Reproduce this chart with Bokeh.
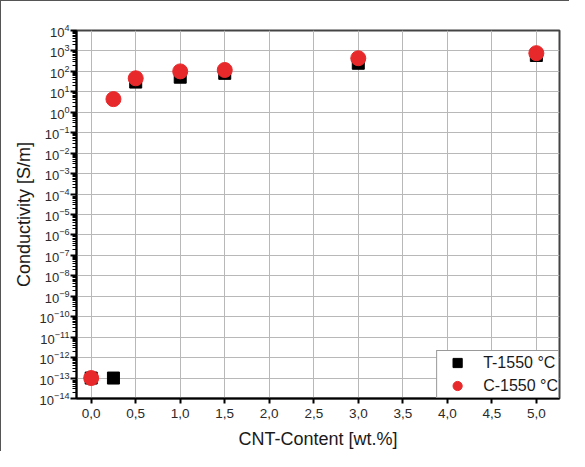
from bokeh.plotting import figure
from bokeh.embed import file_html
from bokeh.resources import INLINE
from bokeh.models import (FixedTicker, CustomJSTickFormatter, LogTickFormatter,
                          Legend, LegendItem, Range1d)

# ---- data ----
x_t = [0.0, 0.25, 0.5, 1.0, 1.5, 3.0, 5.0]
y_t = [1e-13, 1e-13, 30, 52, 80, 250, 600]
x_c = [0.0, 0.25, 0.5, 1.0, 1.5, 3.0, 5.0]
y_c = [1e-13, 4.4, 46, 100, 117, 440, 780]
x_ticks = [0.0, 0.5, 1.0, 1.5, 2.0, 2.5, 3.0, 3.5, 4.0, 4.5, 5.0]
y_exponents = list(range(-14, 5))
series_names = ["T-1550 °C", "C-1550 °C"]

FONT = "Liberation Sans"

p = figure(width=569, height=451, y_axis_type="log",
           x_range=Range1d(-0.165, 5.26), y_range=Range1d(1e-14, 1e4),
           output_backend="svg", toolbar_location=None,
           min_border_left=75, min_border_right=11,
           min_border_top=29, min_border_bottom=54)
p.styles = {"border-top": "1px solid #555", "border-left": "1px solid #555"}

p.background_fill_color = "white"
p.border_fill_color = "white"
p.outline_line_color = "#444444"
p.outline_line_width = 2

# grid
p.xgrid.grid_line_color = "#b8b8b8"
p.ygrid.grid_line_color = "#b8b8b8"
p.xgrid.grid_line_width = 1
p.ygrid.grid_line_width = 1

# x axis
p.xaxis.ticker = FixedTicker(ticks=x_ticks)
p.xaxis.formatter = CustomJSTickFormatter(code="return tick.toFixed(1).replace('.', ',');")
p.xaxis.axis_line_color = "black"
p.xaxis.axis_line_width = 2
p.xaxis.major_tick_line_color = "black"
p.xaxis.major_tick_line_width = 2
p.xaxis.major_tick_out = 5
p.xaxis.major_tick_in = 0
p.xaxis.minor_tick_line_color = None
p.xaxis.major_label_text_font = FONT
p.xaxis.major_label_text_font_size = "13.5px"
p.xaxis.major_label_text_color = "#2a2a2a"
p.xaxis.major_label_standoff = 5
p.xaxis.axis_label = "CNT-Content [wt.%]"
p.xaxis.axis_label_text_font = FONT
p.xaxis.axis_label_text_font_size = "18px"
p.xaxis.axis_label_text_font_style = "normal"
p.xaxis.axis_label_text_color = "#1a1a1a"
p.xaxis.axis_label_standoff = 8

# y axis
minor = []
for e in y_exponents[:-1]:
    for m in range(2, 10):
        minor.append(m * 10.0 ** e)
p.yaxis.ticker = FixedTicker(ticks=[10.0 ** e for e in y_exponents], minor_ticks=minor)
p.yaxis.formatter = LogTickFormatter()
p.yaxis.axis_line_color = "black"
p.yaxis.axis_line_width = 2
p.yaxis.major_tick_line_color = "black"
p.yaxis.major_tick_line_width = 2
p.yaxis.major_tick_out = 6
p.yaxis.major_tick_in = 0
p.yaxis.minor_tick_line_color = "black"
p.yaxis.minor_tick_line_width = 1
p.yaxis.minor_tick_out = 4
p.yaxis.minor_tick_in = 0
p.yaxis.major_label_text_font = FONT
p.yaxis.major_label_text_font_size = "13px"
p.yaxis.major_label_text_color = "#2a2a2a"
p.yaxis.major_label_standoff = 1
p.yaxis.axis_label = "Conductivity [S/m]"
p.yaxis.axis_label_text_font = FONT
p.yaxis.axis_label_text_font_size = "18px"
p.yaxis.axis_label_text_font_style = "normal"
p.yaxis.axis_label_text_color = "#1a1a1a"
p.yaxis.axis_label_standoff = 3

# data
r_t = p.scatter(x_t, y_t, marker="square", size=12, fill_color="black", line_color="black")
r_c = p.scatter(x_c, y_c, marker="circle", size=15, fill_color="#e8292b", line_color="#e8292b")

legend = Legend(items=[LegendItem(label=series_names[0], renderers=[r_t]),
                       LegendItem(label=series_names[1], renderers=[r_c])],
                location="bottom_right")
legend.margin = 0
legend.padding = 0
legend.spacing = 0
legend.glyph_width = 40
legend.glyph_height = 23
legend.label_height = 23
legend.label_standoff = 6
legend.label_text_font = FONT
legend.label_text_font_size = "16px"
legend.label_text_color = "#1a1a1a"
legend.border_line_color = "#333333"
legend.border_line_width = 1
legend.background_fill_alpha = 1
p.add_layout(legend)

open("out.html", "w").write(file_html(p, INLINE))
